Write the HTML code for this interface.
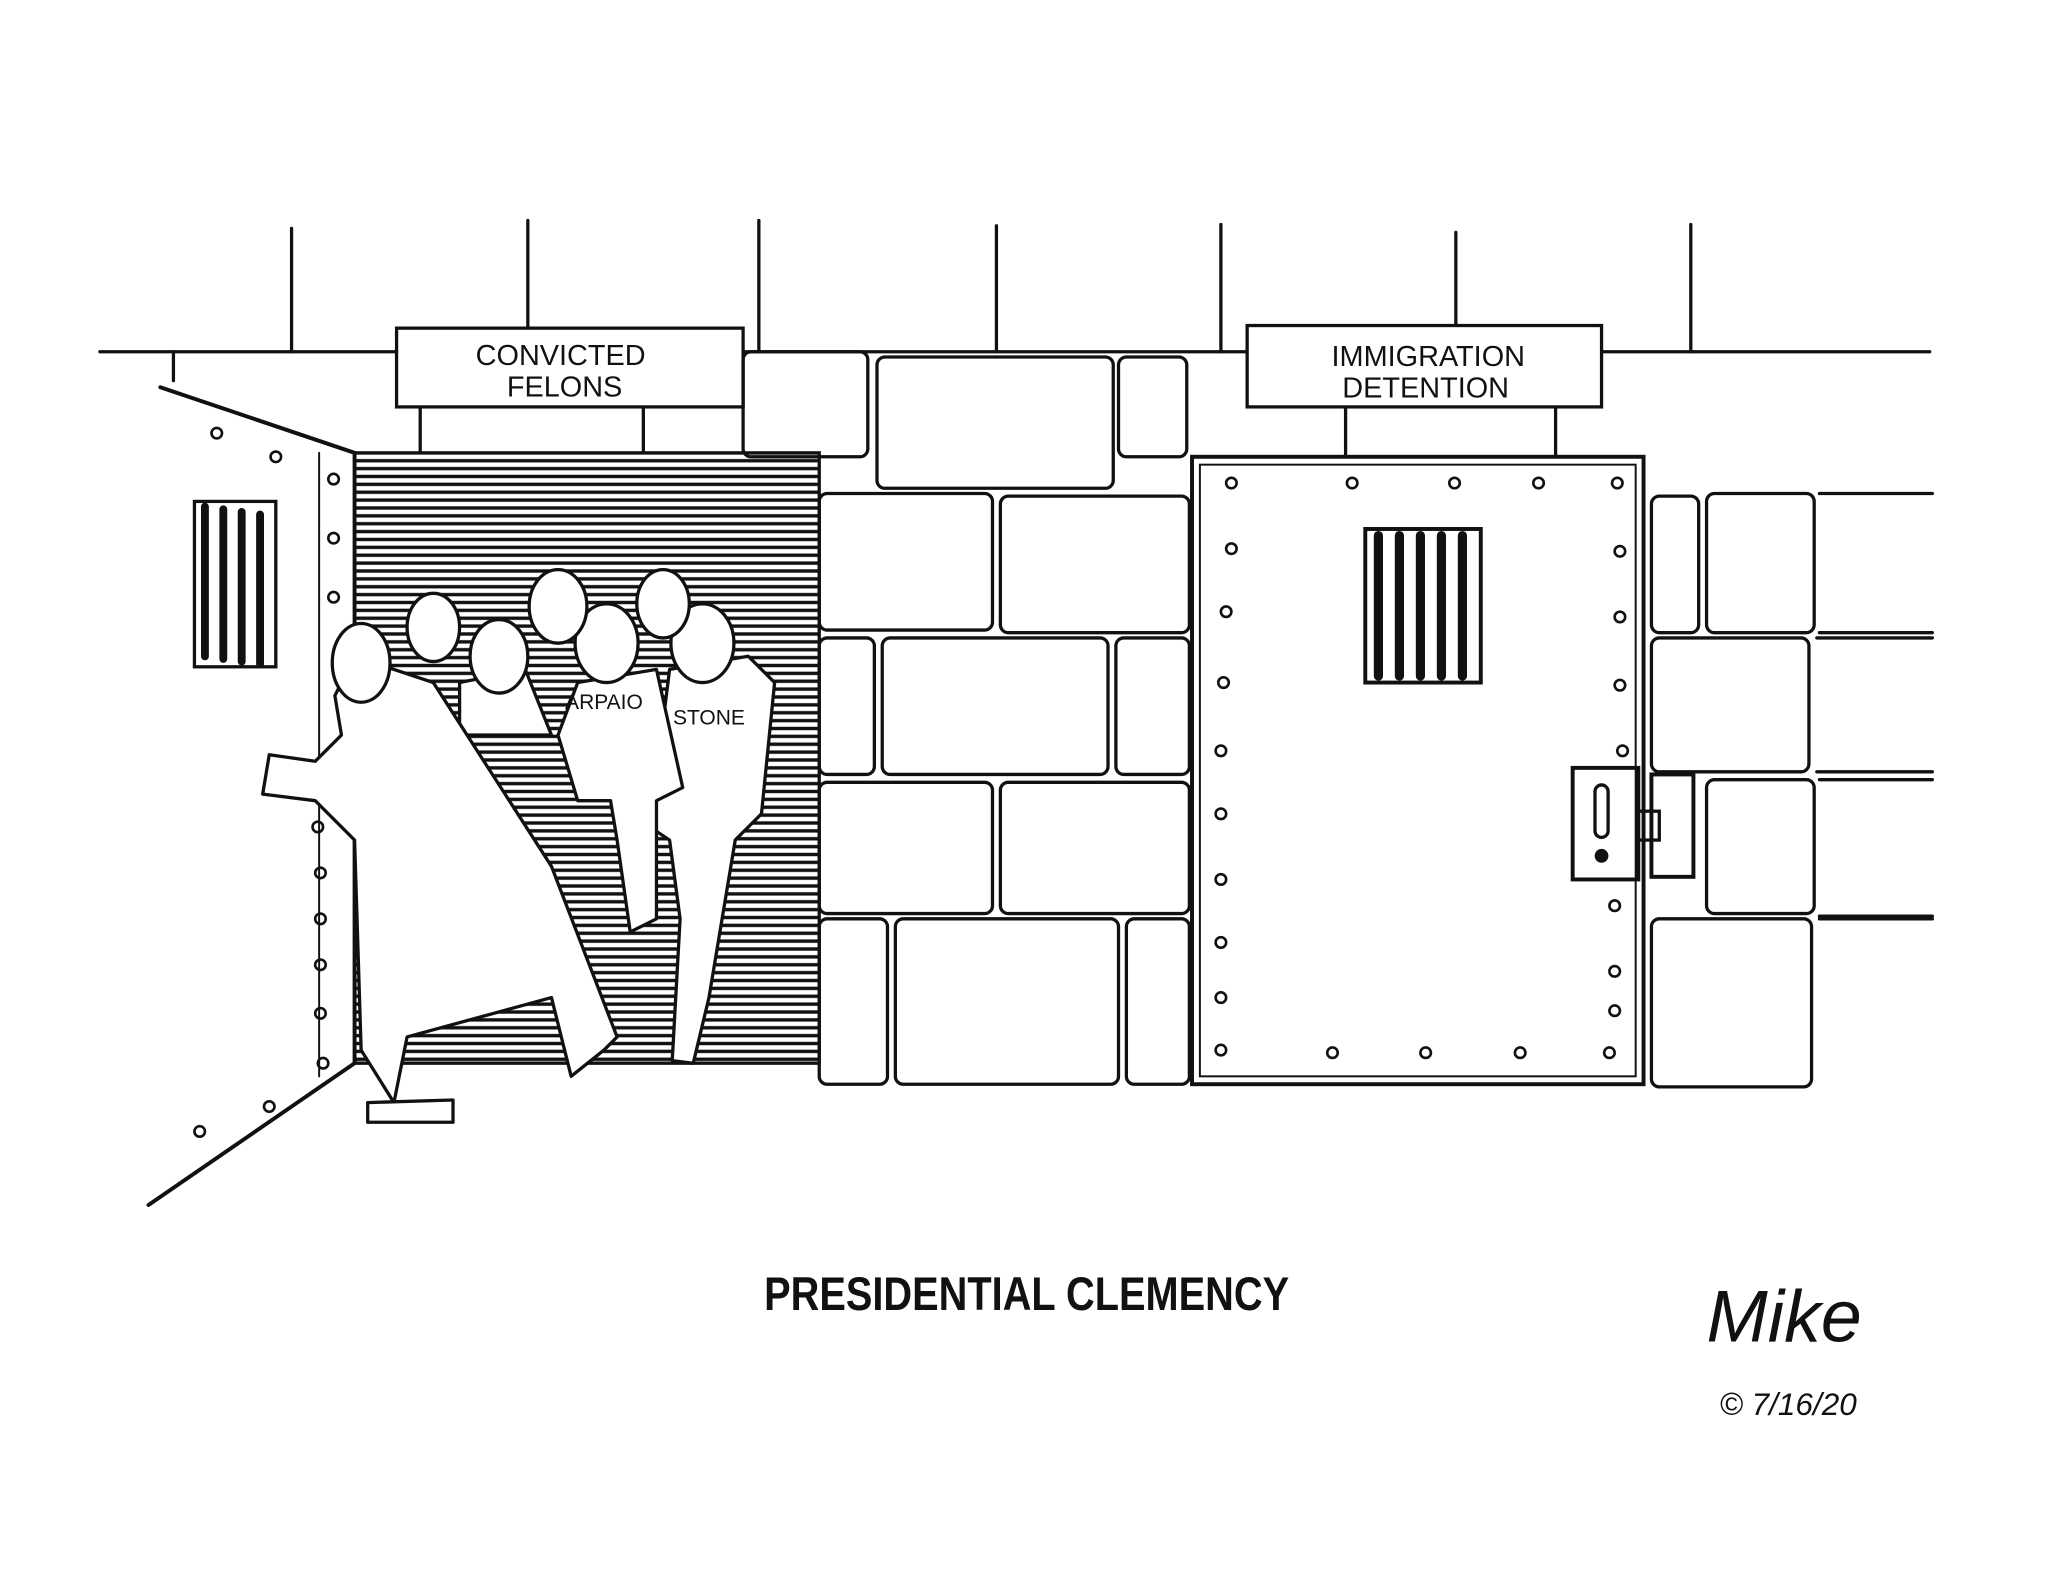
<!DOCTYPE html>
<html><head><meta charset="utf-8"><style>
html,body{margin:0;padding:0;background:#fff;}
svg{display:block;}
text{font-family:"Liberation Sans",sans-serif;fill:#111;}
</style></head><body>
<svg width="2048" height="1583" viewBox="0 0 1560 1206" xmlns="http://www.w3.org/2000/svg">
<defs>
<pattern id="hl" width="10" height="6" patternUnits="userSpaceOnUse">
<rect width="10" height="6" fill="#fff"/><line x1="0" y1="3" x2="10" y2="3" stroke="#111" stroke-width="2.6"/>
</pattern>
</defs>
<rect width="1560" height="1206" fill="#fff"/>
<g stroke="#111" stroke-width="2.5" fill="none" stroke-linecap="round">
<!-- wall top -->
<line x1="76" y1="268" x2="1470" y2="268"/>
<line x1="222" y1="174" x2="222" y2="268"/>
<line x1="402" y1="168" x2="402" y2="250"/>
<line x1="578" y1="168" x2="578" y2="268"/>
<line x1="759" y1="172" x2="759" y2="268"/>
<line x1="930" y1="171" x2="930" y2="268"/>
<line x1="1109" y1="177" x2="1109" y2="248"/>
<line x1="1288" y1="171" x2="1288" y2="268"/>
<line x1="132" y1="268" x2="132" y2="290"/>
<line x1="320" y1="310" x2="320" y2="345"/>
<line x1="490" y1="310" x2="490" y2="345"/>
<line x1="1025" y1="310" x2="1025" y2="348"/>
<line x1="1185" y1="310" x2="1185" y2="348"/>
<!-- signs -->
<rect x="302" y="250" width="264" height="60" fill="#fff"/>
<rect x="950" y="248" width="270" height="62" fill="#fff"/>
<!-- doorway -->
<rect x="270" y="345" width="354" height="465" fill="url(#hl)"/>
<!-- middle bricks -->
<rect x="566" y="268" width="95" height="80" rx="6"/>
<rect x="668" y="272" width="180" height="100" rx="6"/>
<rect x="852" y="272" width="52" height="76" rx="6"/>
<rect x="624" y="376" width="132" height="104" rx="6"/>
<rect x="762" y="378" width="144" height="104" rx="6"/>
<rect x="624" y="486" width="42" height="104" rx="6"/>
<rect x="672" y="486" width="172" height="104" rx="6"/>
<rect x="850" y="486" width="56" height="104" rx="6"/>
<rect x="624" y="596" width="132" height="100" rx="6"/>
<rect x="762" y="596" width="144" height="100" rx="6"/>
<rect x="624" y="700" width="52" height="126" rx="6"/>
<rect x="682" y="700" width="170" height="126" rx="6"/>
<rect x="858" y="700" width="48" height="126" rx="6"/>
<!-- right bricks -->
<rect x="1258" y="378" width="36" height="104" rx="6"/>
<rect x="1300" y="376" width="82" height="106" rx="6"/>
<line x1="1386" y1="376" x2="1472" y2="376"/><line x1="1386" y1="482" x2="1472" y2="482"/>
<rect x="1258" y="486" width="120" height="102" rx="6"/>
<line x1="1384" y1="486" x2="1472" y2="486"/><line x1="1384" y1="588" x2="1472" y2="588"/>
<rect x="1300" y="594" width="82" height="102" rx="6"/>
<line x1="1386" y1="594" x2="1472" y2="594"/><line x1="1386" y1="698" x2="1472" y2="698"/>
<rect x="1258" y="700" width="122" height="128" rx="6"/>
<line x1="1386" y1="700" x2="1472" y2="700"/>
<!-- right door -->
<rect x="908" y="348" width="344" height="478" stroke-width="3" fill="#fff"/>
<rect x="914" y="354" width="332" height="466" stroke-width="1.5"/>
<rect x="1040" y="403" width="88" height="117" stroke-width="3"/>
<line x1="1050" y1="408" x2="1050" y2="515" stroke-width="7"/>
<line x1="1066" y1="408" x2="1066" y2="515" stroke-width="7"/>
<line x1="1082" y1="408" x2="1082" y2="515" stroke-width="7"/>
<line x1="1098" y1="408" x2="1098" y2="515" stroke-width="7"/>
<line x1="1114" y1="408" x2="1114" y2="515" stroke-width="7"/>
<rect x="1198" y="585" width="50" height="85" stroke-width="3"/>
<rect x="1215" y="598" width="10" height="40" rx="5"/>
<circle cx="1220" cy="652" r="4" fill="#111"/>
<rect x="1258" y="590" width="32" height="78" stroke-width="3"/>
<rect x="1248" y="618" width="16" height="22"/>
<!-- left door -->
<path d="M122 295 L270 345 L270 810 L113 918" stroke-width="3" fill="#fff"/>
<rect x="148" y="382" width="62" height="126"/>
<line x1="156" y1="386" x2="156" y2="500" stroke-width="6"/>
<line x1="170" y1="388" x2="170" y2="502" stroke-width="6"/>
<line x1="184" y1="390" x2="184" y2="504" stroke-width="6"/>
<line x1="198" y1="392" x2="198" y2="506" stroke-width="6"/>
<line x1="243" y1="345" x2="243" y2="820" stroke-width="1.5"/>
</g>
<!-- rivets -->
<g stroke="#111" stroke-width="2" fill="none">
<circle cx="938" cy="368" r="4"/><circle cx="1030" cy="368" r="4"/><circle cx="1108" cy="368" r="4"/><circle cx="1172" cy="368" r="4"/><circle cx="1232" cy="368" r="4"/>
<circle cx="938" cy="418" r="4"/><circle cx="934" cy="466" r="4"/><circle cx="932" cy="520" r="4"/><circle cx="930" cy="572" r="4"/><circle cx="930" cy="620" r="4"/><circle cx="930" cy="670" r="4"/><circle cx="930" cy="718" r="4"/><circle cx="930" cy="760" r="4"/><circle cx="930" cy="800" r="4"/>
<circle cx="1234" cy="420" r="4"/><circle cx="1234" cy="470" r="4"/><circle cx="1234" cy="522" r="4"/><circle cx="1236" cy="572" r="4"/><circle cx="1230" cy="690" r="4"/><circle cx="1230" cy="740" r="4"/><circle cx="1230" cy="770" r="4"/><circle cx="1226" cy="802" r="4"/>
<circle cx="1015" cy="802" r="4"/><circle cx="1086" cy="802" r="4"/><circle cx="1158" cy="802" r="4"/>
<circle cx="165" cy="330" r="4"/><circle cx="210" cy="348" r="4"/><circle cx="254" cy="365" r="4"/><circle cx="254" cy="410" r="4"/><circle cx="254" cy="455" r="4"/>
<circle cx="242" cy="630" r="4"/><circle cx="244" cy="665" r="4"/><circle cx="244" cy="700" r="4"/><circle cx="244" cy="735" r="4"/><circle cx="244" cy="772" r="4"/><circle cx="246" cy="810" r="4"/><circle cx="205" cy="843" r="4"/><circle cx="152" cy="862" r="4"/>
</g>
<!-- figures (rough) -->
<g stroke="#111" stroke-width="2.5" fill="#fff" stroke-linejoin="round">
<path d="M510 510 L570 500 L590 520 L580 620 L560 640 L540 760 L528 810 L512 808 L518 700 L510 640 L495 630 Z"/>
<path d="M440 520 L500 510 L520 600 L500 610 L500 700 L480 710 L470 640 L465 610 L440 610 L425 560 Z"/>
<path d="M350 520 L400 510 L420 560 L350 560 Z"/>
<ellipse cx="535" cy="490" rx="24" ry="30"/>
<ellipse cx="462" cy="490" rx="24" ry="30"/>
<ellipse cx="505" cy="460" rx="20" ry="26"/>
<ellipse cx="425" cy="462" rx="22" ry="28"/>
<ellipse cx="380" cy="500" rx="22" ry="28"/>
<path d="M300 840 L310 790 L420 760 L435 820 L460 800 L470 790 L420 660 L330 520 L270 500 L255 530 L260 560 L240 580 L205 575 L200 605 L240 610 L270 640 L275 800 Z"/>
<path d="M280 840 L345 838 L345 855 L280 855 Z"/>
<ellipse cx="275" cy="505" rx="22" ry="30"/>
<ellipse cx="330" cy="478" rx="20" ry="26"/>
</g>
<!-- text -->
<text x="427" y="278" font-size="22" text-anchor="middle">CONVICTED</text>
<text x="430" y="302" font-size="22" text-anchor="middle">FELONS</text>
<text x="1088" y="279" font-size="22" text-anchor="middle">IMMIGRATION</text>
<text x="1086" y="303" font-size="22" text-anchor="middle">DETENTION</text>
<text x="460" y="540" font-size="16" text-anchor="middle">ARPAIO</text>
<text x="540" y="552" font-size="16" text-anchor="middle">STONE</text>
<text x="782" y="998" font-size="36" font-weight="bold" text-anchor="middle" textLength="400" lengthAdjust="spacingAndGlyphs">PRESIDENTIAL CLEMENCY</text>
<text x="1300" y="1022" font-size="56" font-style="italic" font-family="Liberation Serif,serif">Mike</text>
<text x="1310" y="1078" font-size="24" font-style="italic">© 7/16/20</text>
</svg>
</body></html>
